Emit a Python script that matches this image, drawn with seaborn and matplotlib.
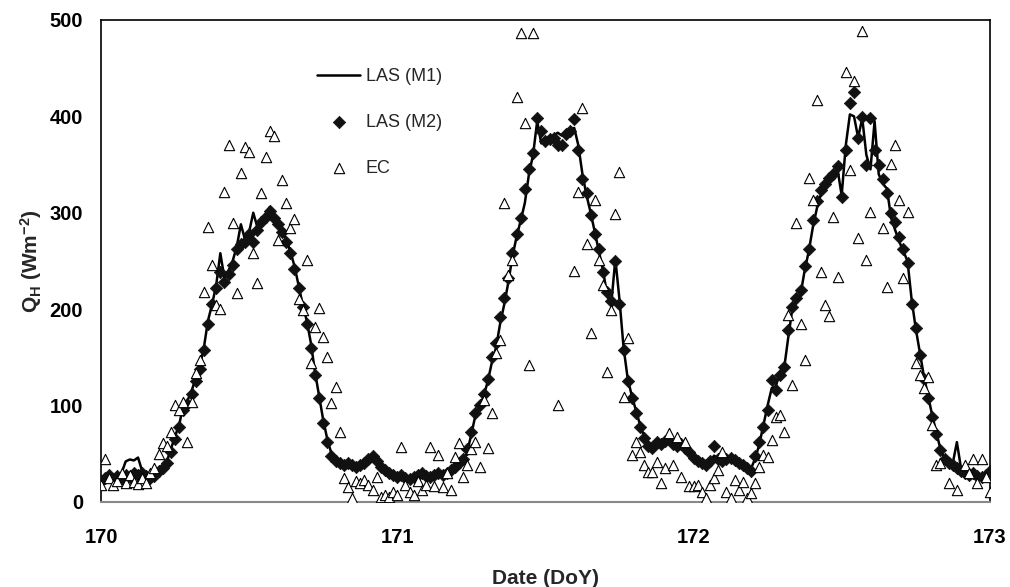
import numpy as np
import pandas as pd
import matplotlib
matplotlib.use("Agg")
import matplotlib.pyplot as plt
import seaborn as sns

nan = np.nan

# 20-minute time steps over DoY 170-173
day_start = 170
steps_per_day = 72

las_m1 = [
    25, 27, 24, 28, 26, 30, 42, 44, 43, 46, 32, 30,
    28, 27, 30, 36, 42, 55, 68, 80, 100, 105, 115, 128,
    140, 160, 188, 205, 225, 258, 232, 240, 250, 265, 288, 272,
    280, 300, 285, 290, 298, 306, 293, 285, 282, 272, 260, 245,
    225, 205, 188, 165, 135, 110, 85, 65, 50, 42, 40, 38,
    42, 40, 38, 36, 38, 40, 42, 40, 35, 32, 30, 28,
    27, 28, 26, 25, 27, 28, 30, 28, 27, 28, 30, 30,
    30, 32, 35, 38, 42, 52, 70, 90, 98, 110, 125, 145,
    160, 185, 205, 228, 255, 275, 292, 310, 340, 360, 395, 372,
    374, 377, 380, 383, 380, 384, 386, 388, 370, 340, 318, 300,
    280, 260, 240, 215, 205, 252, 210, 160, 128, 110, 95, 80,
    68, 60, 58, 62, 60, 62, 64, 60, 62, 60, 55, 50,
    45, 40, 38, 40, 42, 48, 45, 42, 45, 48, 44, 42,
    40, 38, 35, 45, 60, 80, 100, 118, 120, 135, 138, 170,
    200, 210, 215, 240, 260, 285, 305, 320, 328, 335, 342, 345,
    318, 370, 402, 400, 378, 398, 360, 345, 395, 340, 330, 325,
    295, 282, 270, 260, 250, 210, 180, 155, 130, 110, 90, 72,
    55, 45, 42, 40, 62, 35, 32, 30, 30, 28, 25, 28,
    30,
]

las_m2 = [
    22, 25, 28, 24, 27, 25, 28, 26, 30, 28, 30, 27,
    25, 27, 32, 35, 40, 52, 65, 78, 95, 102, 112, 125,
    138, 158, 185, 205, 222, 238, 228, 236, 246, 262, 268, 270,
    278, 270, 282, 290, 296, 302, 295, 288, 280, 270, 258, 242,
    222, 202, 185, 160, 132, 108, 82, 62, 48, 42, 40, 38,
    40, 38, 36, 38, 40, 45, 48, 42, 36, 33, 30, 28,
    26, 28, 25, 24, 26, 28, 30, 27, 26, 28, 30, 28,
    30, 33, 36, 40, 45, 55, 72, 92, 100, 112, 128, 150,
    165, 192, 212, 232, 258, 278, 295, 325, 345, 362, 398, 385,
    374, 376, 378, 370, 370, 382, 385, 397, 365, 335, 320, 298,
    278, 262, 238, 218, 208, 250, 205, 158, 125, 108, 92, 78,
    66, 58, 56, 62, 60, 63, 65, 60, 58, 60, 56, 52,
    46, 42, 40, 38, 42, 58, 45, 42, 44, 46, 43, 40,
    38, 35, 32, 48, 62, 78, 95, 126, 116, 132, 140, 178,
    202, 212, 220, 245, 262, 292, 312, 324, 330, 336, 340, 348,
    316, 365, 414, 425, 378, 399, 350, 398, 365, 350, 335, 320,
    300, 290, 275, 262, 248, 205, 180, 152, 128, 108, 88, 70,
    54, 44, 40, 38, 35, 32, 30, 28, 30, 27, 26, 28,
    32,
]

ec = [
    18, 44, 25, 18, 22, 30, 20, 28, 21, 19, 25, 20,
    30, 35, 50, 61, 58, 72, 100, 95, 104, 62, 104, 134,
    147, 218, 285, 246, 204, 200, 322, 370, 289, 217, 341, 368,
    363, 258, 227, 320, 358, 385, 380, 272, 334, 310, 284, 294,
    211, 199, 251, 144, 181, 201, 171, 150, 103, 119, 73, 25,
    15, 4, 22, 20, 23, 18, 12, 26, 5, 7, 5, 10,
    7, 57, 18, 10, 7, 22, 12, 18, 57, 16, 49, 15,
    30, 12, 47, 61, 26, 38, 55, 62, 36, 106, 56, 92,
    154, 168, 310, 235, 251, 420, 486, 393, 142, 486, nan, nan,
    nan, nan, nan, 100, nan, nan, nan, 240, 321, 409, 268, 175,
    313, 251, 225, 135, 199, 299, 342, 109, 170, 49, 62, 52,
    38, 31, 31, 41, 20, 35, 71, 38, 67, 26, 62, 16,
    16, 18, 10, 4, 18, 25, 33, 52, 10, 4, 23, 12,
    21, 4, 9, 20, 36, 49, 47, 64, 88, 90, 73, 194,
    121, 289, 185, 147, 336, 313, 417, 238, 204, 193, 296, 233,
    nan, 446, 344, 437, 274, 489, 251, 301, nan, nan, 284, 223,
    351, 370, 313, 232, 301, nan, 144, 132, 118, 130, 80, 38,
    40, nan, 20, nan, 12, nan, 38, 30, 44, 20, 44, 26,
    10,
]

x_ticks = [170, 171, 172, 173]
y_ticks = [0, 100, 200, 300, 400, 500]

doy = day_start + np.arange(len(las_m1)) / steps_per_day
df = pd.DataFrame({"doy": doy, "m1": las_m1, "m2": las_m2, "ec": ec})

sns.set_style("white")
plt.rcParams["font.family"] = ["Liberation Sans", "DejaVu Sans"]
plt.rcParams["mathtext.default"] = "regular"

fig, ax = plt.subplots(figsize=(10.1, 5.87), dpi=100)
fig.subplots_adjust(left=0.1, right=0.98, top=0.966, bottom=0.145)

sns.lineplot(data=df, x="doy", y="m1", color="black", linewidth=1.8,
             ax=ax, label="LAS (M1)", zorder=2)
sns.scatterplot(data=df, x="doy", y="m2", marker="D", s=40, color="#111111",
                edgecolor="#111111", linewidth=0.5, ax=ax, label="LAS (M2)",
                zorder=3)
sns.scatterplot(data=df.dropna(subset=["ec"]), x="doy", y="ec", marker="^",
                s=55, color="white", edgecolor="black", linewidth=0.8, ax=ax,
                label="EC", zorder=4)

ax.set_xlim(170, 173)
ax.set_ylim(0, 500)
ax.set_xticks(x_ticks)
ax.set_yticks(y_ticks)
ax.tick_params(axis="both", direction="out", length=5, width=1,
               labelsize=14.5, colors="black")
ax.tick_params(axis="x", pad=14)
ax.tick_params(axis="y", pad=8)
for lbl in ax.get_xticklabels() + ax.get_yticklabels():
    lbl.set_fontweight("bold")

for side in ["left", "top", "right"]:
    ax.spines[side].set_visible(True)
    ax.spines[side].set_color("black")
    ax.spines[side].set_linewidth(1.2)
ax.spines["bottom"].set_color("#888888")
ax.spines["bottom"].set_linewidth(1.5)

ax.set_xlabel("Date (DoY)", fontsize=15, fontweight="bold", labelpad=16)
ax.set_ylabel("Q$_{H}$ (Wm$^{-2}$)", fontsize=15, fontweight="bold",
              labelpad=4)

ax.legend(loc="upper left", bbox_to_anchor=(0.235, 0.915), frameon=False,
          fontsize=13, labelspacing=1.6, handlelength=2.4, handletextpad=0.3,
          borderaxespad=0)

fig.savefig("out.png", dpi=100)
